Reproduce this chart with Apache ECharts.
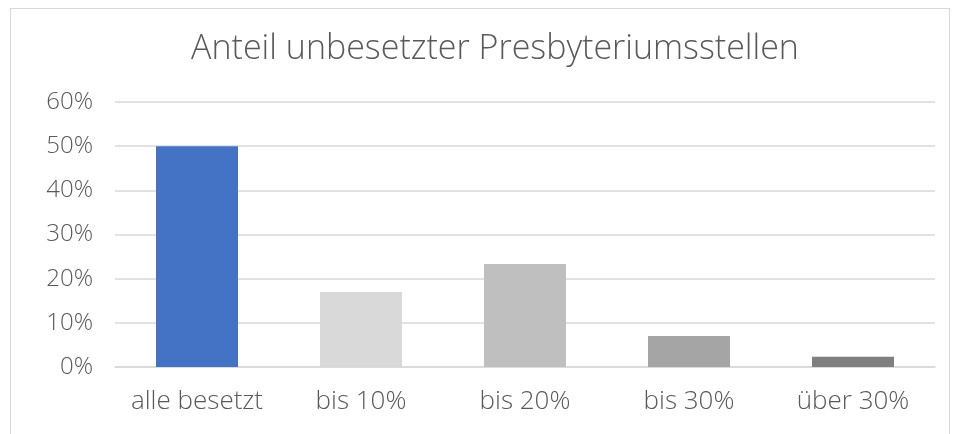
<!DOCTYPE html>
<html>
<head>
<meta charset="utf-8">
<script src="https://cdn.jsdelivr.net/npm/echarts@6/dist/echarts.min.js"></script>
<style>
    html, body { margin: 0; padding: 0; background: #fff; }
    #frame {
        position: absolute;
        left: 10px; top: 8px;
        width: 940px; height: 440px;
        border: 1px solid #d9d9d9;
        box-sizing: border-box;
    }
    #chart { position: absolute; left: 0; top: 0; width: 961px; height: 434px; }
</style>
</head>
<body>
<div id="frame"></div>
<div id="chart"></div>
<script>
const categories = ["alle besetzt", "bis 10%", "bis 20%", "bis 30%", "über 30%"];
const shares = [50, 17, 23.3, 7, 2.3];
const barColors = ["#4472c4", "#d9d9d9", "#bfbfbf", "#a5a5a5", "#7f7f7f"];
const yTicks = [0, 10, 20, 30, 40, 50, 60];

const textColor = "#595959";
const font = "'Open Sans', sans-serif";

let mychart = echarts.init(document.getElementById("chart"), null, { renderer: "canvas" });
let option = {
    animation: false,
    title: {
        text: "Anteil unbesetzter Presbyteriumsstellen",
        left: 490,
        textAlign: "center",
        top: 27,
        textStyle: { color: textColor, fontFamily: font, fontSize: 34, fontWeight: 300 },
    },
    grid: { left: 115, right: 26, top: 102, bottom: 67 },
    xAxis: {
        type: "category",
        data: categories,
        axisLine: { lineStyle: { color: "#d9d9d9", width: 1.5 } },
        axisTick: { show: false },
        axisLabel: { color: textColor, fontFamily: font, fontSize: 26, fontWeight: 300, margin: 22, interval: 0 },
    },
    yAxis: {
        type: "value",
        min: yTicks[0],
        max: yTicks[yTicks.length - 1],
        interval: 10,
        axisLine: { show: false },
        axisTick: { show: false },
        splitLine: { lineStyle: { color: "#d9d9d9", width: 1.5 } },
        axisLabel: {
            color: textColor, fontFamily: font, fontSize: 24, fontWeight: 300, margin: 22,
            formatter: (v) => v + "%",
        },
    },
    series: [{
        type: "bar",
        barCategoryGap: "50%",
        data: shares.map((v, i) => ({ value: v, itemStyle: { color: barColors[i] } })),
    }],
};
mychart.setOption(option);
</script>
</body>
</html>
